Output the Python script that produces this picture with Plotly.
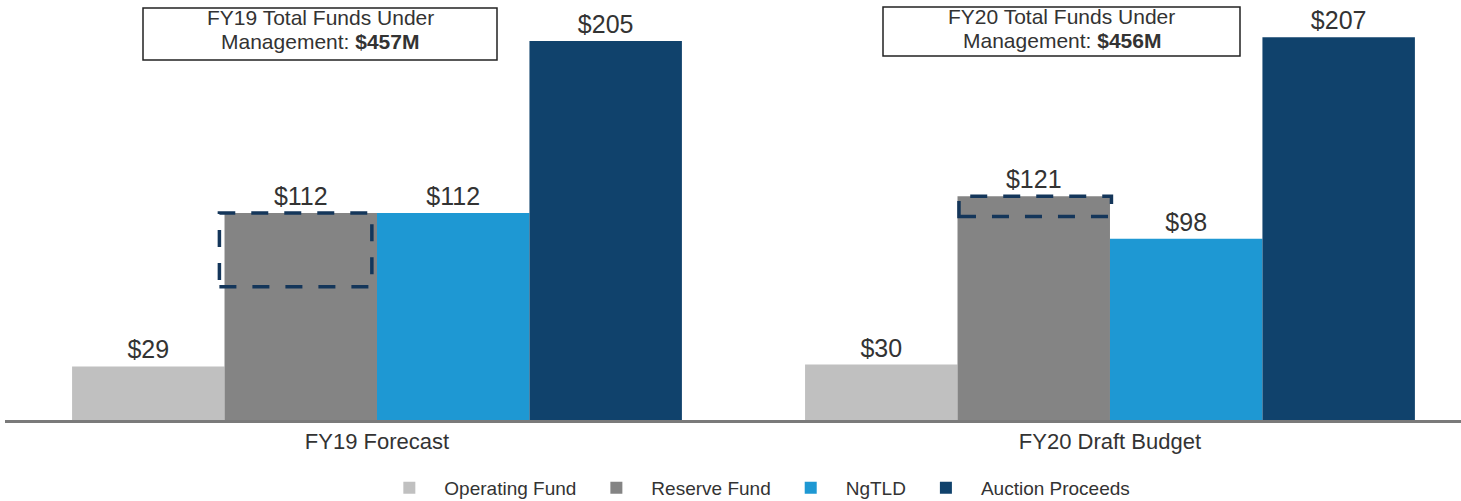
import plotly.graph_objects as go

categories = ["FY19 Forecast", "FY20 Draft Budget"]
series_names = ["Operating Fund", "Reserve Fund", "NgTLD", "Auction Proceeds"]
operating = [29, 30]
reserve = [112, 121]
ngtld = [112, 98]
auction = [205, 207]
totals = ["$457M", "$456M"]
box_years = ["FY19", "FY20"]
# dashed highlight range on the Reserve Fund bars (low, high)
dash_low = [72, 110]
dash_high = [112, 121]

colors = ["#c0c0c0", "#848484", "#1e98d3", "#10426c"]
values = [operating, reserve, ngtld, auction]
FONT = "Liberation Sans, Arial, sans-serif"
TXT = "#333333"
W, H = 1461, 501
PH = 420  # plot-area height in px
PW = W - 5

fig = go.Figure()
for name, vals, col in zip(series_names, values, colors):
    fig.add_trace(go.Bar(
        x=[0, 1], y=vals, name=name, marker=dict(color=col, line=dict(width=0)),
        text=[f"${v}" for v in vals], textposition="outside",
        textfont=dict(size=25, color=TXT, family=FONT),
        cliponaxis=False, hoverinfo="skip",
    ))

bargap = 0.168
group_w = 1 - bargap
bar_w = group_w / 4
nudge = [-0.007, 0.002]
for i in range(2):
    x0 = i - group_w / 2 + bar_w + nudge[i]
    x1 = x0 + bar_w
    fig.add_shape(type="rect", x0=x0, x1=x1, y0=dash_low[i], y1=dash_high[i],
                  xref="x", yref="y", line=dict(color="#14365a", width=3.5, dash="17px,16px"),
                  fillcolor="rgba(0,0,0,0)")

# summary boxes (pixel positions converted to paper coordinates)
box_l = [143, 883]
box_r = [497, 1240]
box_top_px = [8, 7]
box_bot_px = [60, 56]
line1_px = [18, 17]
line2_px = [42, 40]
for i in range(2):
    x0 = (box_l[i] - 5) / PW
    x1 = (box_r[i] - 5) / PW
    fig.add_shape(type="rect", xref="paper", yref="paper", x0=x0, x1=x1,
                  y0=1 - box_bot_px[i] / PH, y1=1 - box_top_px[i] / PH,
                  line=dict(color="#222222", width=1.5), fillcolor="white", layer="above")
    cx = (x0 + x1) / 2
    fig.add_annotation(x=cx, y=1 - line1_px[i] / PH, xref="paper", yref="paper",
                       xanchor="center", yanchor="middle",
                       showarrow=False, text=f"{box_years[i]} Total Funds Under",
                       font=dict(size=21, color=TXT, family=FONT))
    fig.add_annotation(x=cx, y=1 - line2_px[i] / PH, xref="paper", yref="paper",
                       xanchor="center", yanchor="middle",
                       showarrow=False, text=f"Management: <b>{totals[i]}</b>",
                       font=dict(size=21, color=TXT, family=FONT))

fig.update_layout(
    width=W, height=H, barmode="group", bargap=bargap, bargroupgap=0,
    plot_bgcolor="white", paper_bgcolor="white",
    margin=dict(l=5, r=0, t=0, b=H - PH, autoexpand=False),
    font=dict(family=FONT, color=TXT),
    xaxis=dict(tickvals=[0, 1], ticktext=categories, range=[-0.5075, 1.4789],
               showline=True, linecolor="#7a7a7a", linewidth=2.5, ticks="",
               tickfont=dict(size=22, color=TXT), showgrid=False, zeroline=False),
    yaxis=dict(range=[0, PH / 1.849], visible=False, showgrid=False),
    legend=dict(orientation="h", x=0.515, xanchor="center",
                yref="container", y=1 - 488 / H, yanchor="middle",
                font=dict(size=19, color=TXT), traceorder="normal", itemwidth=60),
    showlegend=True,
)

fig.write_html("out.html", config={"displayModeBar": False},
               post_script="document.body.style.margin='0px';")
